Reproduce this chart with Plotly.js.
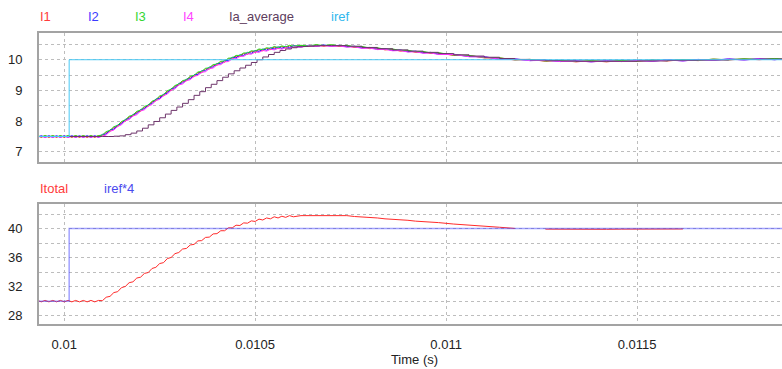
<!DOCTYPE html>
<html>
<head>
<meta charset="utf-8">
<script src="https://cdn.plot.ly/plotly-3.0.1.min.js"></script>
<style>
html,body{margin:0;padding:0;overflow:hidden;background:#fff;}
#chart{width:790px;height:369px;}
</style>
</head>
<body>
<div id="chart"></div>
<script>
// Time axis (s) shared by I1..I4 and Itotal
const T = [0.00993,0.00994,0.00995,0.00996,0.00997,0.00998,0.00999,0.01000,0.01001,0.01002,0.01003,0.01004,0.01005,0.01006,0.01007,0.01008,0.01009,
0.01010,0.01011,0.01012,0.01013,0.01014,0.01015,0.01016,0.01017,0.01018,0.01019,0.01020,0.01021,0.01022,0.01023,0.01024,0.01025,0.01026,0.01027,0.01028,0.01029,
0.01030,0.01031,0.01032,0.01033,0.01034,0.01035,0.01036,0.01037,0.01038,0.01039,0.01040,0.01041,0.01042,0.01043,0.01044,0.01045,0.01046,0.01047,0.01048,0.01049,
0.01050,0.01051,0.01052,0.01053,0.01054,0.01055,0.01056,0.01057,0.01058,0.01059,0.01060,
0.01062,0.01064,0.01066,0.01068,0.01070,0.01072,0.01074,0.01076,0.01078,0.01080,0.01082,0.01084,0.01086,0.01088,0.01090,0.01092,0.01094,0.01096,0.01098,
0.01102,0.01106,0.01110,0.01114,0.01118,0.01122,0.01126,0.01130,0.01134,0.01138,0.01142,0.01146,0.01150,0.01154,0.01158,0.01162,0.01166,0.01170,0.01174,0.01178,0.01182,0.01186,0.01190];

const I1 = [7.53,7.47,7.53,7.47,7.53,7.47,7.53,7.47,7.53,7.47,7.53,7.47,7.53,7.47,7.53,7.47,7.53,
7.51,7.64,7.66,7.80,7.82,7.97,8.00,8.14,8.16,8.30,8.32,8.46,8.48,8.63,8.66,8.80,8.82,8.97,9.00,9.14,
9.17,9.30,9.31,9.44,9.45,9.58,9.58,9.70,9.70,9.82,9.82,9.93,9.92,10.03,10.02,10.12,10.10,10.20,10.18,10.27,
10.24,10.33,10.29,10.37,10.33,10.41,10.36,10.43,10.38,10.45,10.40,
10.46,10.43,10.48,10.44,10.48,10.43,10.46,10.40,10.42,10.36,10.38,10.32,10.34,10.28,10.30,10.24,10.26,10.20,10.22,
10.14,10.14,10.06,10.06,9.99,10.01,9.95,9.98,9.93,9.97,9.93,9.98,9.94,9.99,9.96,10.00,9.97,10.02,9.99,10.03,10.00,10.04,10.01];

const I2 = [7.47,7.53,7.47,7.53,7.47,7.53,7.47,7.53,7.47,7.53,7.47,7.53,7.47,7.53,7.47,7.53,7.47,
7.57,7.58,7.72,7.74,7.88,7.91,8.06,8.08,8.22,8.24,8.38,8.40,8.54,8.57,8.72,8.74,8.88,8.91,9.06,9.08,
9.23,9.24,9.37,9.38,9.51,9.52,9.64,9.64,9.76,9.76,9.88,9.87,9.98,9.97,10.08,10.06,10.16,10.14,10.24,10.21,
10.30,10.27,10.35,10.31,10.39,10.35,10.42,10.37,10.44,10.39,10.46,
10.42,10.47,10.44,10.48,10.44,10.47,10.42,10.44,10.38,10.40,10.34,10.36,10.30,10.32,10.26,10.28,10.22,10.24,10.18,
10.18,10.10,10.10,10.02,10.03,9.97,9.99,9.94,9.97,9.93,9.97,9.94,9.98,9.95,10.00,9.96,10.01,9.98,10.03,9.99,10.04,10.00,10.05];

const I3 = [7.53,7.49,7.53,7.49,7.53,7.49,7.53,7.49,7.53,7.49,7.53,7.49,7.53,7.49,7.53,7.49,7.53,
7.55,7.66,7.70,7.82,7.86,7.99,8.04,8.16,8.20,8.32,8.36,8.48,8.52,8.65,8.70,8.82,8.86,8.99,9.04,9.16,
9.21,9.32,9.35,9.46,9.49,9.60,9.62,9.72,9.74,9.84,9.86,9.95,9.96,10.05,10.06,10.14,10.14,10.22,10.22,10.29,
10.28,10.35,10.33,10.39,10.37,10.43,10.40,10.45,10.42,10.47,10.44,
10.47,10.45,10.49,10.46,10.49,10.45,10.47,10.42,10.43,10.38,10.39,10.34,10.35,10.30,10.31,10.26,10.27,10.22,10.23,
10.15,10.14,10.07,10.06,10.00,10.01,9.96,9.98,9.94,9.97,9.94,9.98,9.95,9.99,9.97,10.00,9.98,10.02,10.00,10.03,10.01,10.04,10.02];

const I4 = [7.47,7.51,7.47,7.51,7.47,7.51,7.47,7.51,7.47,7.51,7.47,7.51,7.47,7.51,7.47,7.51,7.47,
7.52,7.55,7.67,7.71,7.83,7.88,8.01,8.05,8.17,8.21,8.33,8.37,8.49,8.54,8.67,8.71,8.83,8.88,9.01,9.05,
9.18,9.21,9.32,9.35,9.46,9.49,9.59,9.61,9.71,9.73,9.83,9.84,9.93,9.94,10.03,10.03,10.11,10.11,10.19,10.18,
10.25,10.24,10.30,10.28,10.34,10.32,10.37,10.34,10.39,10.36,10.41,
10.41,10.45,10.43,10.46,10.43,10.45,10.41,10.42,10.37,10.38,10.33,10.34,10.29,10.30,10.25,10.26,10.21,10.22,10.17,
10.17,10.10,10.09,10.02,10.02,9.97,9.98,9.94,9.96,9.93,9.96,9.94,9.97,9.95,9.99,9.96,10.00,9.98,10.02,9.99,10.03,10.00,10.04];

// Ia_average: sampled (staircase) signal
const tAvg = [0.00993,0.01010,0.010115,0.01013,0.010145,0.01016,0.010175,0.01019,0.010205,0.01022,0.010235,0.01025,0.010265,0.01028,0.010295,0.01031,0.010325,0.01034,0.010355,0.01037,
0.010385,0.0104,0.010415,0.01043,0.010445,0.01046,0.010475,0.01049,0.010505,0.01052,0.010535,0.01055,0.010565,0.01058,0.010595,0.01061,0.010625,0.01064,0.010655,0.01067,0.010685,0.0107,
0.01074,0.01078,0.01082,0.01086,0.0109,0.01094,0.01098,0.01102,0.01106,0.0111,0.01114,0.01118,0.01122,0.01126,0.0113,0.01134,0.01142,0.0115,0.01158,0.01166,0.01174,0.01182,0.0119];
const IaAvg = [7.50,7.50,7.50,7.51,7.52,7.56,7.61,7.68,7.77,7.88,7.99,8.11,8.23,8.35,8.46,8.58,8.70,8.84,8.96,9.09,
9.20,9.32,9.43,9.54,9.64,9.73,9.82,9.91,10.00,10.09,10.17,10.24,10.30,10.35,10.39,10.42,10.43,10.44,10.45,10.46,10.46,10.46,
10.44,10.40,10.36,10.32,10.28,10.24,10.20,10.16,10.12,10.08,10.04,10.01,9.99,9.97,9.96,9.95,9.95,9.96,9.98,9.99,10.01,10.02,10.03];

// Reference step
const tRef = [0.00993,0.010013,0.0119];
const iref = [7.5,10,10];
const iref4 = [30,40,40];

// Total current (ends at 0.01162)
const Itotal = [30.1,29.9,30.1,29.9,30.1,29.9,30.1,29.9,30.1,29.9,30.1,29.9,30.1,29.9,30.1,29.9,30.1,
30.06,30.54,30.66,31.18,31.30,31.86,32.02,32.54,32.66,33.18,33.30,33.82,33.94,34.50,34.66,35.18,35.30,35.86,36.02,36.54,
36.70,37.18,37.26,37.74,37.82,38.30,38.34,38.78,38.82,39.26,39.30,39.70,39.70,40.10,40.10,40.46,40.42,40.78,40.74,41.06,
40.98,41.30,41.18,41.46,41.34,41.62,41.46,41.70,41.54,41.78,41.62,
41.78,41.78,41.86,41.82,41.86,41.78,41.78,41.66,41.62,41.50,41.46,41.34,41.30,41.18,41.14,41.02,40.98,40.86,40.82,
40.62,40.50,40.30,40.18,40.02,null,39.92,39.90,39.90,39.90,39.90,39.92,39.92,39.94,39.94,39.94];
const tTotal = T.slice(0, Itotal.length);

// Axis ticks
const xTicks = [0.01,0.0105,0.011,0.0115];
const xTickText = ['0.01','0.0105','0.011','0.0115'];
const yTopTicks = [7,7.5,8,8.5,9,9.5,10,10.5];
const yTopText = ['7','','8','','9','','10',''];
const yBotTicks = [28,30,32,34,36,38,40,42];
const yBotText = ['28','','32','','36','','40',''];

const font = 'Liberation Sans, Arial, sans-serif';
const ln = (c) => ({color:c, width:1});

const traces = [
  {x:T, y:I1, xaxis:'x', yaxis:'y', mode:'lines', line:ln('#ff2020'), name:'I1'},
  {x:T, y:I2, xaxis:'x', yaxis:'y', mode:'lines', line:ln('#2020ff'), name:'I2'},
  {x:T, y:I3, xaxis:'x', yaxis:'y', mode:'lines', line:ln('#20e020'), name:'I3'},
  {x:T, y:I4, xaxis:'x', yaxis:'y', mode:'lines', line:ln('#ff30ff'), name:'I4'},
  {x:tAvg, y:IaAvg, xaxis:'x', yaxis:'y', mode:'lines', line:{color:'#6e356b', width:1, shape:'hv'}, name:'Ia_average'},
  {x:tRef, y:iref, xaxis:'x', yaxis:'y', mode:'lines', line:{color:'#48c8f4', width:1, shape:'hv'}, name:'iref'},
  {x:tTotal, y:Itotal, xaxis:'x2', yaxis:'y2', mode:'lines', line:ln('#ff2a2a'), name:'Itotal', connectgaps:false},
  {x:tRef, y:iref4, xaxis:'x2', yaxis:'y2', mode:'lines', line:{color:'rgba(70,70,255,0.5)', width:1.5, shape:'hv'}, name:'iref*4'}
];

const W = 751, H = 291;
const px = (p) => (p - 39) / W;
const py = (p) => (324 - p) / H;
const leg = (txt, x, y, c) => ({text:txt, x:px(x), y:py(y), xref:'paper', yref:'paper', xanchor:'left', yanchor:'middle', showarrow:false, font:{family:font, size:13, color:c}});

const xRange = [0.009934, 0.0119005];
const axBase = {showgrid:true, gridcolor:'#bdbdbd', griddash:'dot', gridwidth:1, zeroline:false, showline:true, mirror:true, linecolor:'#a3a3a3', linewidth:2, ticks:'', tickfont:{family:font, size:13, color:'#222'}};

const layout = {
  width:790, height:369,
  margin:{l:39, r:0, t:33, b:45},
  paper_bgcolor:'#fff', plot_bgcolor:'#fff',
  showlegend:false,
  font:{family:font, size:13, color:'#222'},
  xaxis:Object.assign({}, axBase, {anchor:'y', domain:[0,1], range:xRange, tickvals:xTicks, showticklabels:false}),
  yaxis:Object.assign({}, axBase, {anchor:'x', domain:[0.5567,1], range:[6.67,10.87], tickvals:yTopTicks, ticktext:yTopText, ticklabelstandoff:12}),
  xaxis2:Object.assign({}, axBase, {anchor:'y2', domain:[0,1], range:xRange, tickvals:xTicks, ticktext:xTickText, ticklabelstandoff:7, automargin:false,
    title:{text:'Time (s)', font:{family:font, size:13, color:'#222'}, standoff:3}}),
  yaxis2:Object.assign({}, axBase, {anchor:'x2', domain:[0,0.4113], range:[26.85,43.34], tickvals:yBotTicks, ticktext:yBotText, ticklabelstandoff:12}),
  annotations:[
    leg('I1', 38, 17, '#ff3b3b'),
    leg('I2', 86, 17, '#3b3bff'),
    leg('I3', 133, 17, '#33d633'),
    leg('I4', 181, 17, '#ff44ff'),
    leg('Ia_average', 227, 17, '#5e3d5e'),
    leg('iref', 329, 17, '#2fb8ee'),
    leg('Itotal', 38, 188, '#ff3b3b'),
    leg('iref*4', 102, 188, '#4a4aee')
  ]
};

Plotly.newPlot('chart', traces, layout, {staticPlot:true, displayModeBar:false});
</script>
</body>
</html>
